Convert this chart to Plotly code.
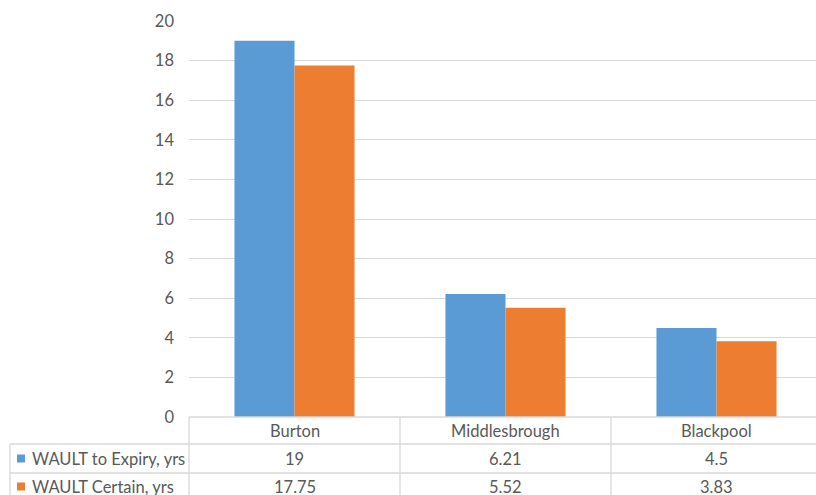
import plotly.graph_objects as go

categories = ["Burton", "Middlesbrough", "Blackpool"]
series_names = ["WAULT to Expiry, yrs", "WAULT Certain, yrs"]
expiry = [19, 6.21, 4.5]
certain = [17.75, 5.52, 3.83]
colors = ["#5B9BD5", "#ED7D31"]
y_ticks = [0, 2, 4, 6, 8, 10, 12, 14, 16, 18, 20]

W, H = 816, 495
ML, MT, MB = 189, 21, 78
plot_h = H - MT - MB
plot_w = W - ML
cat_px = 211.0
x0 = -0.5
x1 = x0 + plot_w / cat_px

FONT = "Lato"
TXT = "#595959"
GRID = "#D9D9D9"
FS = 16.5

fig = go.Figure()
for name, vals, col in zip(series_names, [expiry, certain], colors):
    fig.add_trace(go.Bar(x=list(range(len(categories))), y=vals, name=name,
                         marker=dict(color=col, line=dict(width=0))))

def px_to_py(py):
    return (H - MB - py) / plot_h

def xdata_to_paper(xv):
    return (xv - x0) / (x1 - x0)

def pxx_to_paper(px):
    return (px - ML) / plot_w

shapes = []
annotations = []
line = dict(color=GRID, width=1.3)
row_top = px_to_py(444)
row_mid = px_to_py(473)
bottom = px_to_py(H + 5)
left_edge = pxx_to_paper(10)
# horizontal table lines
shapes.append(dict(type="line", xref="paper", yref="paper", x0=0, x1=1.01, y0=0, y1=0, line=line))
shapes.append(dict(type="line", xref="paper", yref="paper", x0=left_edge, x1=1.01, y0=row_top, y1=row_top, line=line))
shapes.append(dict(type="line", xref="paper", yref="paper", x0=left_edge, x1=1.01, y0=row_mid, y1=row_mid, line=line))
# vertical table lines
shapes.append(dict(type="line", xref="paper", yref="paper", x0=0, x1=0, y0=0, y1=bottom, line=line))
shapes.append(dict(type="line", xref="paper", yref="paper", x0=left_edge, x1=left_edge, y0=row_top, y1=bottom, line=line))
for i in range(len(categories) - 1):
    xp = xdata_to_paper(i + 0.5)
    shapes.append(dict(type="line", xref="paper", yref="paper", x0=xp, x1=xp, y0=0, y1=bottom, line=line))

rows_y = [px_to_py(430.5), px_to_py(458.5), px_to_py(486.5)]
for i, c in enumerate(categories):
    annotations.append(dict(x=i, y=rows_y[0], xref="x", yref="paper", text=c, showarrow=False,
                            xanchor="center", yanchor="middle",
                            font=dict(family=FONT, size=FS, color=TXT)))
    for r, vals in enumerate([expiry, certain]):
        annotations.append(dict(x=i, y=rows_y[r + 1], xref="x", yref="paper", text=f"{vals[i]:g}",
                                showarrow=False, xanchor="center", yanchor="middle",
                                font=dict(family=FONT, size=FS, color=TXT)))

for r, (name, col) in enumerate(zip(series_names, colors)):
    cy = 458.5 + 28 * r
    shapes.append(dict(type="rect", xref="paper", yref="paper",
                       x0=pxx_to_paper(17), x1=pxx_to_paper(25),
                       y0=px_to_py(cy - 4), y1=px_to_py(cy + 4),
                       fillcolor=col, line=dict(width=0)))
    annotations.append(dict(x=pxx_to_paper(30), y=rows_y[r + 1], xref="paper", yref="paper",
                            text=name, showarrow=False, xanchor="left", yanchor="middle",
                            font=dict(family=FONT, size=FS, color=TXT)))

fig.update_layout(
    width=W, height=H,
    margin=dict(l=ML, r=0, t=MT, b=MB, pad=0),
    paper_bgcolor="white", plot_bgcolor="white",
    barmode="group", bargap=0.431, bargroupgap=0,
    showlegend=False,
    font=dict(family=FONT, size=FS, color=TXT),
    xaxis=dict(range=[x0, x1], showticklabels=False, showgrid=False, zeroline=False,
               showline=False, ticks=""),
    yaxis=dict(range=[0, 20], tickvals=y_ticks, showgrid=True, gridcolor=GRID, gridwidth=1.3,
               zeroline=False, showline=False, ticks="", ticklabelstandoff=14,
               tickfont=dict(family=FONT, size=FS, color=TXT)),
    shapes=shapes, annotations=annotations,
)
fig.write_html("out.html")
